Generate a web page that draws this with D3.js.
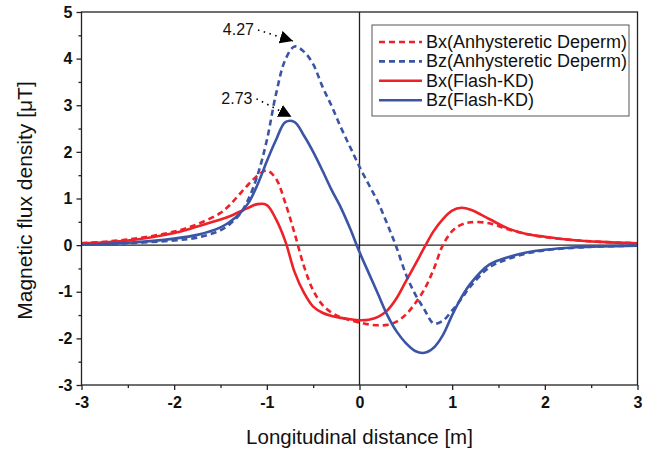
<!DOCTYPE html>
<html><head><meta charset="utf-8">
<script src="https://cdn.jsdelivr.net/npm/d3@7"></script>
<style>body{margin:0;background:#fff}svg{display:block}text{font-family:Arial,"Liberation Sans",Helvetica,sans-serif}</style>
</head><body><svg id="c" width="655" height="450"></svg>
<script>
const xs = [-3,-2.5,-2,-1.75,-1.5,-1.4,-1.3,-1.2,-1.1,-1.0,-0.9,-0.8,-0.7,-0.6,-0.5,-0.4,-0.3,-0.2,-0.1,0,0.1,0.2,0.3,0.4,0.5,0.6,0.7,0.8,0.9,1.0,1.1,1.2,1.4,1.6,1.8,2.0,2.3,2.6,3.0];
const bxAD    = [0.04,0.12,0.29,0.45,0.69,0.86,1.08,1.30,1.49,1.60,1.42,0.90,0.25,-0.45,-0.97,-1.28,-1.45,-1.55,-1.61,-1.66,-1.70,-1.72,-1.71,-1.64,-1.49,-1.25,-0.95,-0.52,0.0,0.30,0.44,0.49,0.47,0.34,0.24,0.17,0.11,0.07,0.04];
const bzAD    = [0.01,0.04,0.10,0.16,0.32,0.45,0.64,0.98,1.50,2.25,3.25,3.98,4.26,4.15,3.88,3.40,2.98,2.52,2.10,1.68,1.30,0.92,0.45,-0.05,-0.62,-1.05,-1.38,-1.68,-1.62,-1.40,-1.15,-0.88,-0.48,-0.30,-0.18,-0.11,-0.06,-0.03,-0.01];
const bxFlash = [0.04,0.10,0.26,0.40,0.55,0.62,0.71,0.80,0.88,0.86,0.55,0.08,-0.58,-1.02,-1.32,-1.45,-1.52,-1.56,-1.59,-1.61,-1.60,-1.54,-1.40,-1.14,-0.78,-0.42,-0.05,0.30,0.56,0.74,0.80,0.76,0.56,0.36,0.24,0.18,0.11,0.07,0.04];
const bzFlash = [0.01,0.05,0.14,0.22,0.38,0.50,0.66,0.90,1.30,1.80,2.26,2.64,2.64,2.35,2.00,1.60,1.18,0.80,0.35,-0.15,-0.60,-1.05,-1.50,-1.85,-2.10,-2.27,-2.31,-2.20,-1.93,-1.50,-1.12,-0.82,-0.42,-0.26,-0.16,-0.10,-0.05,-0.03,-0.01];
const seriesNames = ["Bx(Anhysteretic Deperm)","Bz(Anhysteretic Deperm)","Bx(Flash-KD)","Bz(Flash-KD)"];
const xTicks = [-3,-2,-1,0,1,2,3];
const yTicks = [-3,-2,-1,0,1,2,3,4,5];
const peakLabels = ["4.27","2.73"];
const peakX = [-0.68,-0.75];
const peakY = [4.27,2.73];

const RED = "#ee2128", BLUE = "#3b55a6";
const series = [
  {name: seriesNames[0], vals: bxAD, color: RED, dash: "6,4"},
  {name: seriesNames[1], vals: bzAD, color: BLUE, dash: "6,4"},
  {name: seriesNames[2], vals: bxFlash, color: RED, dash: null},
  {name: seriesNames[3], vals: bzFlash, color: BLUE, dash: null}
];

const svg = d3.select("#c");
const L = 81.5, R = 637.5, T = 12, B = 385;
const x = d3.scaleLinear().domain([-3,3]).range([L,R]);
const y = d3.scaleLinear().domain([-3,5]).range([B,T]);

// zero lines
svg.append("line").attr("x1",L).attr("x2",R).attr("y1",y(0)).attr("y2",y(0)).attr("stroke","#222").attr("stroke-width",1.3);
svg.append("line").attr("x1",x(0)).attr("x2",x(0)).attr("y1",T).attr("y2",B).attr("stroke","#222").attr("stroke-width",1.3);

// curves
const line = d3.line().x((d,i)=>x(xs[i])).y(d=>y(d)).curve(d3.curveCatmullRom.alpha(0.5));
const order = [0,2,1,3];
order.forEach(k=>{
  const s = series[k];
  svg.append("path").attr("d", line(s.vals)).attr("fill","none")
    .attr("stroke", s.color).attr("stroke-width", 2.6)
    .attr("stroke-dasharray", s.dash);
});

// frame
svg.append("rect").attr("x",L).attr("y",T).attr("width",R-L).attr("height",B-T)
  .attr("fill","none").attr("stroke","#222").attr("stroke-width",1.3);

// axes
const fmt = d => String(d);
const gx = svg.append("g").attr("transform",`translate(0,${B})`)
  .call(d3.axisBottom(x).tickValues(xTicks).tickSize(5).tickPadding(7).tickFormat(fmt));
const gxm = svg.append("g").attr("transform",`translate(0,${B})`)
  .call(d3.axisBottom(x).tickValues(d3.range(-2.5,3,1)).tickSize(3).tickFormat(""));
const gy = svg.append("g").attr("transform",`translate(${L},0)`)
  .call(d3.axisLeft(y).tickValues(yTicks).tickSize(5).tickPadding(4).tickFormat(fmt));
const gym = svg.append("g").attr("transform",`translate(${L},0)`)
  .call(d3.axisLeft(y).tickValues(d3.range(-2.5,5,1)).tickSize(3).tickFormat(""));
[gx,gxm,gy,gym].forEach(g=>{
  g.select(".domain").remove();
  g.selectAll(".tick line").attr("stroke","#222").attr("stroke-width",1.3);
  g.selectAll("text").attr("font-size",16).attr("font-weight","bold").attr("fill","#111")
   .attr("font-family","Arial, 'Liberation Sans', sans-serif");
});

// axis titles
svg.append("text").attr("x",(L+R)/2).attr("y",444).attr("text-anchor","middle")
  .attr("font-size",20.5).attr("fill","#111").text("Longitudinal distance [m]");
svg.append("text").attr("transform",`translate(32,${(T+B)/2+2}) rotate(-90)`).attr("text-anchor","middle")
  .attr("font-size",21).attr("fill","#111").text("Magnetic flux density [μT]");

// legend
const lg = svg.append("g");
lg.append("rect").attr("x",372).attr("y",25).attr("width",257).attr("height",91)
  .attr("fill","#fff").attr("stroke","#555").attr("stroke-width",1);
series.forEach((s,i)=>{
  const yy = 42 + i*19.4;
  lg.append("line").attr("x1",379).attr("x2",422).attr("y1",yy).attr("y2",yy)
    .attr("stroke",s.color).attr("stroke-width",2.6).attr("stroke-dasharray",s.dash);
  lg.append("text").attr("x",426).attr("y",yy+6).attr("font-size",18).attr("fill","#111").text(s.name);
});

// peak annotations (pixel offsets of the arrow tip / label relative to the peak)
const annLayout = [{tdx:-3.5, tdy:-5, ldy:-6}, {tdx:1.5, tdy:-1, ldy:-13}];
svg.append("defs").append("marker").attr("id","arr").attr("viewBox","0 0 10 10")
  .attr("refX",10).attr("refY",5).attr("markerWidth",13).attr("markerHeight",13)
  .attr("markerUnits","userSpaceOnUse").attr("orient","auto")
  .append("path").attr("d","M0,0L10,5L0,10Z").attr("fill","#000");
peakLabels.forEach((lab,i)=>{
  const a = annLayout[i];
  const tipX = x(peakX[i]) + a.tdx, tipY = y(peakY[i]) + a.tdy;
  const tx = tipX - 39, ty = tipY + a.ldy;
  svg.append("text").attr("x",tx).attr("y",ty).attr("text-anchor","end")
    .attr("font-size",16).attr("fill","#111").text(lab);
  svg.append("path").attr("d",`M${tx+4},${ty-5} L${tipX},${tipY}`)
    .attr("fill","none").attr("stroke","#000").attr("stroke-width",1.6)
    .attr("stroke-dasharray","1.5,4.5").attr("marker-end","url(#arr)");
});
</script></body></html>
